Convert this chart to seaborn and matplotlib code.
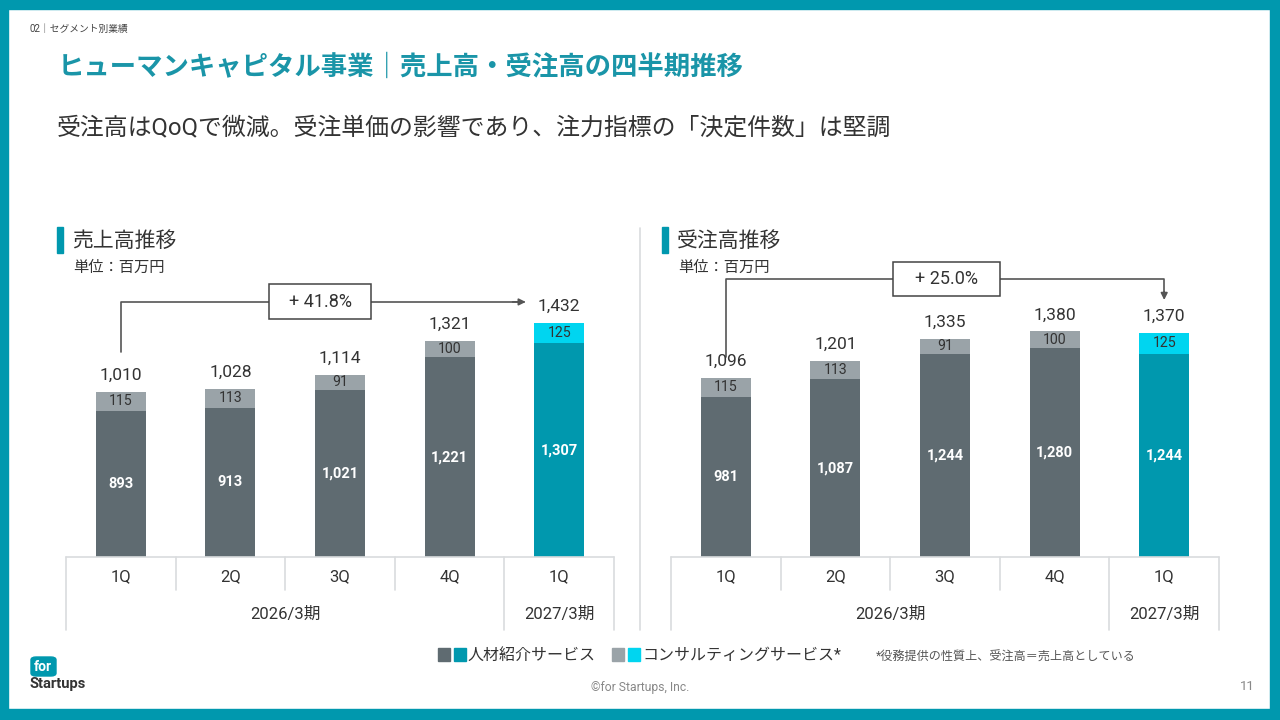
import pandas as pd
import matplotlib.pyplot as plt
from matplotlib.patches import Rectangle, FancyBboxPatch
import seaborn as sns

# データ
keys = ["26-1Q", "26-2Q", "26-3Q", "26-4Q", "27-1Q"]
quarters = ["1Q", "2Q", "3Q", "4Q", "1Q"]
periods = ["2026/3期", "2027/3期"]

sales_total = [1010, 1028, 1114, 1321, 1432]
sales_base = [893, 913, 1021, 1221, 1307]
sales_cons = [115, 113, 91, 100, 125]
sales_growth = "+ 41.8%"

orders_total = [1096, 1201, 1335, 1380, 1370]
orders_base = [981, 1087, 1244, 1280, 1244]
orders_cons = [115, 113, 91, 100, 125]
orders_growth = "+ 25.0%"

TEAL = "#0098AE"
DARK = "#5F6B71"
LIGHT = "#9AA3A8"
CYAN = "#00D5F0"
TXT = "#333333"
GRID = "#D9DCDE"

sns.set_theme(style="white")
plt.rcParams["font.family"] = ["Roboto", "Noto Sans CJK JP", "DejaVu Sans"]

W, H = 1280, 720
fig = plt.figure(figsize=(12.8, 7.2), dpi=100)
fig.patch.set_facecolor("white")


def px(x, y):
    return x / W, 1 - y / H


def ftext(x, y, s, **kw):
    fig.text(*px(x, y), s, **kw)


# 枠
for (x0, y0, w, h) in [(0, 0, W, 9), (0, 0, 8, H), (1270, 0, 10, H), (0, 709, W, 11)]:
    fig.patches.append(Rectangle(px(x0, y0 + h), w / W, h / H, transform=fig.transFigure,
                                 color=TEAL, zorder=0))

# ヘッダー
ftext(30, 29, "02｜セグメント別業績", fontsize=7, color="#444444", va="center")
ftext(58, 67, "ヒューマンキャピタル事業｜売上高・受注高の四半期推移", fontsize=19,
      fontweight="bold", color="#1A95A8", va="center")
ftext(57, 128, "受注高はQoQで微減。受注単価の影響であり、注力指標の「決定件数」は堅調",
      fontsize=17.2, color=TXT, va="center")


def draw_panel(x0, title, total, base, cons, growth, mode):
    # 棒グラフ: x0..x0+548, 基線 y=557
    ax = fig.add_axes([x0 / W, 1 - 557 / H, 548 / W, 327 / H])
    df = pd.DataFrame({"key": keys, "total": total, "base": base})
    top_pal = [LIGHT] * 4 + [CYAN]
    base_pal = [DARK] * 4 + [TEAL]
    sns.barplot(data=df, x="key", y="total", hue="key", palette=top_pal, width=0.456,
                legend=False, ax=ax, saturation=1, order=keys, linewidth=0)
    sns.barplot(data=df, x="key", y="base", hue="key", palette=base_pal, width=0.456,
                legend=False, ax=ax, saturation=1, order=keys, linewidth=0)
    ax.set_xlim(-0.5, 4.5)
    ax.set_ylim(0, 2000)
    ax.axis("off")
    for i in range(5):
        ax.text(i, total[i] + 55, f"{total[i]:,}", ha="center", va="bottom",
                fontsize=12.5, color=TXT)
        ax.text(i, (base[i] + total[i]) / 2, f"{cons[i]:,}", ha="center", va="center",
                fontsize=10.2, color=TXT)
        ax.text(i, base[i] / 2, f"{base[i]:,}", ha="center", va="center",
                fontsize=10.5, color="white", fontweight="bold")

    # 成長率の矢印
    if mode == "right":
        ax.plot([0, 0, 3.68], [1254, 1560, 1560], color="#555555", lw=1.2)
        ax.annotate("", xy=(3.72, 1560), xytext=(3.55, 1560),
                    arrowprops=dict(arrowstyle="-|>", color="#555555", lw=1.2,
                                    mutation_scale=10))
        bx, by, bw, bh = 1.82, 1560, 0.93, 214
    else:
        ax.plot([0, 0, 4.0, 4.0], [1223, 1700, 1700, 1600], color="#555555", lw=1.2)
        ax.annotate("", xy=(4.0, 1555), xytext=(4.0, 1640),
                    arrowprops=dict(arrowstyle="-|>", color="#555555", lw=1.2,
                                    mutation_scale=10))
        bx, by, bw, bh = 2.01, 1700, 0.976, 208
    ax.add_patch(Rectangle((bx - bw / 2, by - bh / 2), bw, bh, fc="white", ec="#444444",
                           lw=1.1, zorder=5, clip_on=False))
    ax.text(bx, by, growth, ha="center", va="center", fontsize=13, color=TXT, zorder=6)

    # 表
    tb = fig.add_axes([x0 / W, 1 - 630 / H, 548 / W, 73 / H])
    tb.set_xlim(-0.5, 4.5)
    tb.set_ylim(0, 1)
    tb.axis("off")
    tb.plot([-0.5, 4.5], [1, 1], color=GRID, lw=1.2, clip_on=False)
    for xv in [-0.5, 3.5, 4.5]:
        tb.plot([xv, xv], [0, 1], color=GRID, lw=1.2, clip_on=False)
    for xv in [0.5, 1.5, 2.5]:
        tb.plot([xv, xv], [0.55, 1], color=GRID, lw=1.2, clip_on=False)
    for i, q in enumerate(quarters):
        tb.text(i, 0.73, q, ha="center", va="center", fontsize=12, color=TXT)
    tb.text(1.5, 0.22, periods[0], ha="center", va="center", fontsize=12, color=TXT)
    tb.text(4, 0.22, periods[1], ha="center", va="center", fontsize=12, color=TXT)

    # 見出し
    hx = x0 - 9
    fig.patches.append(Rectangle(px(hx, 253), 6 / W, 26 / H, transform=fig.transFigure,
                                 color=TEAL))
    ftext(hx + 15, 241, title, fontsize=15, color=TXT, va="center")
    ftext(hx + 16, 268, "単位：百万円", fontsize=11, color=TXT, va="center")


draw_panel(66, "売上高推移", sales_total, sales_base, sales_cons, sales_growth, "right")
draw_panel(671, "受注高推移", orders_total, orders_base, orders_cons, orders_growth, "down")

# 区切り線
fig.add_artist(plt.Line2D([640 / W, 640 / W], [1 - 228 / H, 1 - 630 / H],
                          transform=fig.transFigure, color=GRID, lw=1.2))

# 凡例
for (x, c) in [(438, DARK), (454, TEAL), (612, LIGHT), (628, CYAN)]:
    fig.patches.append(Rectangle(px(x, 661), 12 / W, 13 / H, transform=fig.transFigure,
                                 color=c))
ftext(467, 655, "人材紹介サービス", fontsize=11.5, color=TXT, va="center")
ftext(642, 655, "コンサルティングサービス*", fontsize=11.5, color=TXT, va="center")
ftext(876, 657, "*役務提供の性質上、受注高＝売上高としている", fontsize=8.7, color="#555555",
      va="center")

# フッター
ftext(640, 687, "©for Startups, Inc.", fontsize=8.7, color="#888888", ha="center", va="center")
ftext(1255, 686, "11", fontsize=9.5, color="#888888", ha="right", va="center")

# ロゴ
fig.patches.append(FancyBboxPatch(px(31, 676), 25 / W, 19 / H, transform=fig.transFigure,
                                  boxstyle="round,pad=0,rounding_size=0.004", color=TEAL))
ftext(43, 667, "for", fontsize=10, color="white", fontweight="bold", ha="center", va="center")
ftext(30, 684, "Startups", fontsize=10.6, color="#333333", fontweight="bold", va="center")

fig.savefig("out.png", dpi=100, facecolor="white")
